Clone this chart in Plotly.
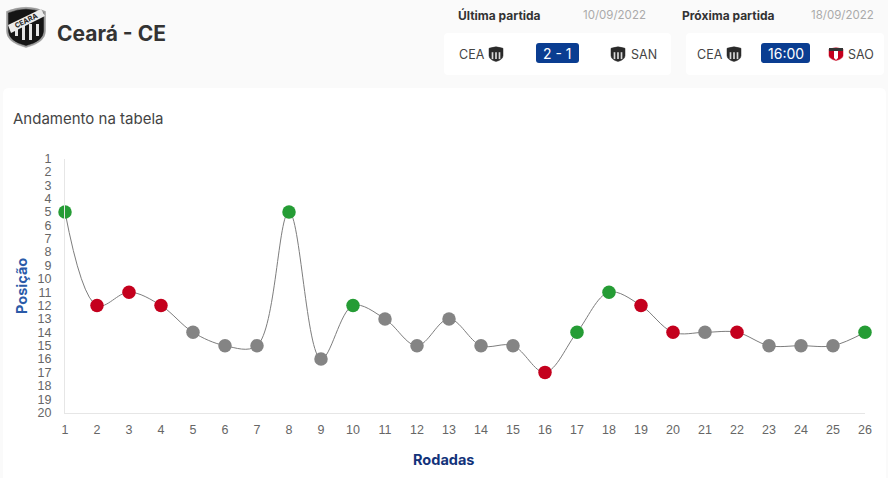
import plotly.graph_objects as go

## Chart data
rodadas = list(range(1, 27))
posicoes = [5, 12, 11, 12, 14, 15, 15, 5, 16, 12, 13, 15, 13,
            15, 15, 17, 14, 11, 12, 14, 14, 14, 15, 15, 15, 14]
resultados = ["v", "d", "d", "d", "e", "e", "e", "v", "e", "v", "e", "e", "e",
              "e", "e", "d", "v", "v", "d", "d", "e", "d", "e", "e", "e", "v"]
posicao_ticks = list(range(1, 21))
cores = {"v": "#259c35", "d": "#c4001d", "e": "#848484"}

W, H = 888, 478
AZUL = "#0a3d91"

## Pixel helpers for the page furniture around the chart
def fx(px):
    return px / W

def fy(py):
    return 1 - py / H

def label(px, py, text, size=12, color="#333", anchor="left", bold=False, font="Inter", angle=0):
    # annotations carry 2px of padding, take it back so px is the text edge
    shift = {"left": -2, "right": 2, "center": 0}[anchor]
    return dict(
        xref="paper", yref="paper", x=fx(px + shift), y=fy(py),
        text=f"<b>{text}</b>" if bold else text,
        showarrow=False, xanchor=anchor, yanchor="middle", textangle=angle,
        font=dict(size=size, color=color, family=font),
    )

def poly(points, color, layer="above"):
    path = "M " + " L ".join(f"{fx(x)} {fy(y)}" for x, y in points) + " Z"
    return dict(type="path", xref="paper", yref="paper", path=path,
                fillcolor=color, line_width=0, layer=layer)

def rounded(x0, y0, x1, y1, r, color):
    path = (f"M {fx(x0 + r)} {fy(y0)} L {fx(x1 - r)} {fy(y0)} "
            f"Q {fx(x1)} {fy(y0)} {fx(x1)} {fy(y0 + r)} L {fx(x1)} {fy(y1 - r)} "
            f"Q {fx(x1)} {fy(y1)} {fx(x1 - r)} {fy(y1)} L {fx(x0 + r)} {fy(y1)} "
            f"Q {fx(x0)} {fy(y1)} {fx(x0)} {fy(y1 - r)} L {fx(x0)} {fy(y0 + r)} "
            f"Q {fx(x0)} {fy(y0)} {fx(x0 + r)} {fy(y0)} Z")
    return dict(type="path", xref="paper", yref="paper", path=path,
                fillcolor=color, line_width=0, layer="below")

def escudo(cx, cy, w, h, color):
    # shield outline, centred on (cx, cy)
    l, r, t, b = cx - w / 2, cx + w / 2, cy - h / 2, cy + h / 2
    path = (f"M {fx(l)} {fy(t + h * 0.12)} Q {fx(cx)} {fy(t - h * 0.08)} {fx(r)} {fy(t + h * 0.12)} "
            f"L {fx(r)} {fy(cy + h * 0.1)} Q {fx(r)} {fy(b - h * 0.12)} {fx(cx)} {fy(b)} "
            f"Q {fx(l)} {fy(b - h * 0.12)} {fx(l)} {fy(cy + h * 0.1)} Z")
    return dict(type="path", xref="paper", yref="paper", path=path,
                fillcolor=color, line=dict(color=color, width=0.5), layer="above")

def escudo_listrado(cx, cy, w, h):
    # small black and white striped crest
    out = [escudo(cx, cy, w, h, "#2a2a2a")]
    for k in (-0.25, 0, 0.25):
        sx = cx + k * w
        out.append(dict(type="rect", xref="paper", yref="paper",
                        x0=fx(sx - w * 0.06), x1=fx(sx + w * 0.06),
                        y0=fy(cy - h * 0.12), y1=fy(cy + h * 0.34),
                        fillcolor="#d9d9d9", line_width=0, layer="above"))
    return out

## Main series
fig = go.Figure(
    go.Scatter(
        x=rodadas,
        y=posicoes,
        mode="lines+markers",
        line=dict(shape="spline", smoothing=1.0, color="#7d7d7d", width=1),
        marker=dict(size=13.5, color=[cores[r] for r in resultados], line_width=0),
        cliponaxis=False,
        hoverinfo="x+y",
    )
)

## Page furniture
shapes = [
    rounded(3, 88, 886, 490, 6, "#ffffff"),
    rounded(444, 33, 671, 75, 4, "#ffffff"),
    rounded(686, 33, 884, 75, 4, "#ffffff"),
    rounded(536, 43, 579, 63, 3, AZUL),
    rounded(761, 43, 810, 63, 3, AZUL),
]

# Ceará crest: silver rim, black body, white stripes, diagonal band
shapes += [escudo(26, 27, 39, 41, "#9a9a9a"), escudo(26, 27, 35, 37, "#151515")]
for sx in (15, 22, 29, 36):
    shapes.append(dict(type="rect", xref="paper", yref="paper", x0=fx(sx), x1=fx(sx + 3),
                       y0=fy(24), y1=fy(40 if sx in (22, 29) else 36),
                       fillcolor="#e4e4e4", line_width=0, layer="above"))
shapes.append(poly([(8, 25), (41, 9), (45, 16), (11, 33)], "#ececec"))

shapes += escudo_listrado(496, 54, 14, 15)
shapes += escudo_listrado(618, 54, 14, 15)
shapes += escudo_listrado(734, 54, 14, 15)
shapes += [
    escudo(836, 54, 14, 13, "#c4001d"),
    poly([(829, 48), (843, 48), (843, 51), (829, 51)], "#333333"),
    poly([(834, 51), (838, 51), (838, 58), (836, 60), (834, 58)], "#ffffff"),
]

annotations = [
    label(57, 33, "Ceará - CE", size=21, color="#333333", bold=True),
    label(458, 15, "Última partida", size=12, color="#333333", bold=True),
    label(646, 15, "10/09/2022", size=11.5, color="#aaaaaa", anchor="right"),
    label(682, 15, "Próxima partida", size=12, color="#333333", bold=True),
    label(874, 15, "18/09/2022", size=11.5, color="#aaaaaa", anchor="right"),
    label(459, 54, "CEA", size=12.5, color="#444444"),
    label(557.5, 53, "2 - 1", size=14, color="#ffffff", anchor="center"),
    label(631, 54, "SAN", size=12.5, color="#444444"),
    label(697, 54, "CEA", size=12.5, color="#444444"),
    label(785.5, 53, "16:00", size=14, color="#ffffff", anchor="center"),
    label(848, 54, "SAO", size=12.5, color="#444444"),
    label(13, 118, "Andamento na tabela", size=15, color="#444444"),
    label(21, 286, "Posição", size=14.5, color="#2a5aa8", anchor="center", bold=True, angle=-90),
    label(443, 459, "Rodadas", size=14.5, color="#12337a", anchor="center", bold=True),
    label(26.5, 21, "<b>CEARA</b>", size=7, color="#222222", anchor="center", angle=-26),
]

fig.update_layout(
    width=W,
    height=H,
    margin=dict(l=0, r=0, t=0, b=0, pad=0, autoexpand=False),
    paper_bgcolor="#fafafa",
    plot_bgcolor="#ffffff",
    showlegend=False,
    shapes=shapes,
    annotations=annotations,
    font=dict(family="Liberation Sans", size=12.5, color="#666666"),
)

fig.update_xaxes(
    domain=[fx(65), fx(865)],
    range=[1, 26],
    tickvals=rodadas,
    showgrid=False,
    zeroline=False,
    showline=True,
    linecolor="#e6e6e6",
    linewidth=1,
    ticks="",
    ticklabelstandoff=5,
)
fig.update_yaxes(
    domain=[fy(412.5), fy(158.5)],
    range=[20, 1],
    tickvals=posicao_ticks,
    showgrid=False,
    zeroline=False,
    showline=True,
    linecolor="#e6e6e6",
    linewidth=1,
    ticks="",
    ticklabelstandoff=10,
)

fig.write_html(
    "out.html",
    config={"displayModeBar": False},
    post_script="document.body.style.margin='0';document.body.style.background='#fafafa';",
)
